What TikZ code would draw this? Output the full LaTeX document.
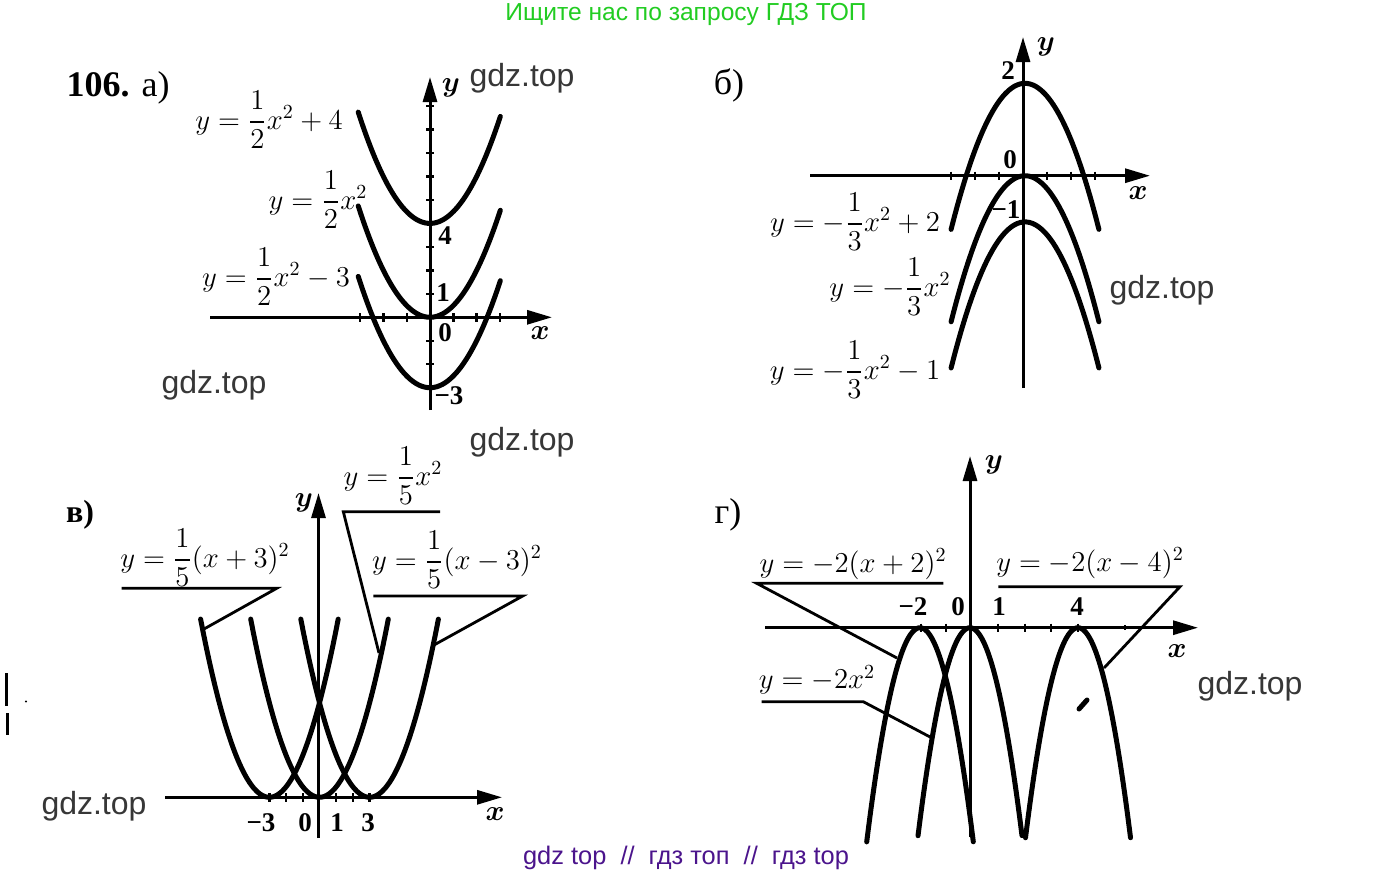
\documentclass[tikz,border=0pt]{standalone}
\usepackage{amsmath}
\usepackage{fontspec}
\setmainfont{Liberation Serif}
\newfontfamily\wmfont{Liberation Sans}
\usetikzlibrary{arrows.meta}
\definecolor{wmgray}{RGB}{55,55,55}
\definecolor{topgreen}{RGB}{34,204,34}
\definecolor{botpurple}{RGB}{75,20,140}
\begin{document}
\begin{tikzpicture}[x=0.5pt,y=-0.5pt,
  axis/.style={line width=1.5pt,-{Triangle[length=12.5pt,width=7pt]}},
  curve/.style={line width=2.5pt,line cap=round},
  lead/.style={line width=1.4pt},
  tk/.style={line width=1.2pt},
  lbl/.style={font=\fontsize{14}{16}\selectfont,inner sep=0pt},
  num/.style={font=\fontsize{13.5}{15}\selectfont\bfseries,inner sep=0pt},
  ax/.style={font=\fontsize{15}{17}\selectfont\boldmath,inner sep=0pt},
  wm/.style={font=\wmfont\fontsize{16}{18}\selectfont,text=wmgray,inner sep=0pt},
  ttl/.style={font=\fontsize{18}{20}\selectfont,inner sep=0pt}]
\useasboundingbox (0,0) rectangle (1374,878);

% header / footer
\node[font=\wmfont\fontsize{12.3}{14}\selectfont,text=topgreen,inner sep=0pt] (top) at (686,14) {Ищите нас по запросу ГДЗ ТОП};
\node[font=\wmfont\fontsize{12.7}{14}\selectfont,text=botpurple,inner sep=0pt] (bot) at (686,858) {gdz top\ \ //\ \ гдз топ\ \ //\ \ гдз top};

% ---------------- panel a ----------------
\node[ttl] (ta) at (118,88) {\textbf{106.} а)};
\draw[axis] (430,410) -- (430,77);
\draw[axis] (210,317.3) -- (552,317.3);
\foreach \k in {-3,-2,-1,1,2,3} \draw[tk] ({430+23.3*\k},313) -- ({430+23.3*\k},321.5);
\foreach \k in {-3,-2,-1,1,2,3,4,5,6,7,8,9} \draw[tk] (426,{317.3-23.47*\k}) -- (434,{317.3-23.47*\k});
\draw[curve] plot[domain=-3.08:3.02,samples=50,smooth] ({430+23.3*\x},{317.3-23.47*(0.5*\x*\x+4)});
\draw[curve] plot[domain=-3.08:3.02,samples=50,smooth] ({430+23.3*\x},{317.3-23.47*(0.5*\x*\x)});
\draw[curve] plot[domain=-3.08:3.02,samples=50,smooth] ({430+23.3*\x},{317.3-23.47*(0.5*\x*\x-3)});
\node[lbl] (fa1) at (269,120) {$y=\dfrac{1}{2}x^2+4$};
\node[lbl] (fa2) at (318,200) {$y=\dfrac{1}{2}x^2$};
\node[lbl] (fa3) at (276,277) {$y=\dfrac{1}{2}x^2-3$};
\node[ax] (ya) at (451,88) {$y$};
\node[ax] (xa) at (540,333) {$x$};
\node[num] (a4) at (445,236) {4};
\node[num] (a1) at (443,293) {1};
\node[num] (a0) at (445,333) {0};
\node[num] (am3) at (449,396) {−3};
\node[wm] (wa1) at (522,78) {gdz.top};
\node[wm] (wa2) at (214,385) {gdz.top};

% ---------------- panel b ----------------
\node[ttl] (tb) at (729,85) {б)};
\draw[axis] (1023,388) -- (1023,37);
\draw[axis] (810,175.7) -- (1150,175.7);
\foreach \k in {-3,-2,-1,1,2,3} \draw[tk] ({1023+24*\k},171.5) -- ({1023+24*\k},180);
\draw[curve] plot[domain=-3.08:3.08,samples=50,smooth] ({1025+24*\x},{175.7-46.2*(-\x*\x/3+2)});
\draw[curve] plot[domain=-3.08:3.08,samples=50,smooth] ({1025+24*\x},{175.7-46.2*(-\x*\x/3)});
\draw[curve] plot[domain=-3.08:3.08,samples=50,smooth] ({1025+24*\x},{175.7-46.2*(-\x*\x/3-1)});
\node[lbl] (fb1) at (855,222) {$y=-\dfrac{1}{3}x^2+2$};
\node[lbl] (fb2) at (890,287) {$y=-\dfrac{1}{3}x^2$};
\node[lbl] (fb3) at (855,370) {$y=-\dfrac{1}{3}x^2-1$};
\node[ax] (yb) at (1046,47) {$y$};
\node[ax] (xb) at (1138,193) {$x$};
\node[num] (b2) at (1008,71) {2};
\node[num] (b0) at (1010,160) {0};
\node[num] (bm1) at (1006,210) {−1};
\node[wm] (wb) at (1162,290) {gdz.top};

% ---------------- panel v ----------------
\node[ttl,font=\fontsize{16}{18}\selectfont\bfseries] (tv) at (80,515) {в)};
\draw[axis] (318.5,838) -- (318.5,493);
\draw[axis] (165,797.3) -- (502,797.3);
\foreach \k in {-3,-2,-1,1,2,3} \draw[tk] ({319.5+16.7*\k},793) -- ({319.5+16.7*\k},801.5);
\draw[curve] plot[domain=-4.12:4.12,samples=50,smooth] ({319.5+16.7*(\x-3)},{797.3-52.5*0.2*\x*\x});
\draw[curve] plot[domain=-4.12:4.12,samples=50,smooth] ({319.5+16.7*\x},{797.3-52.5*0.2*\x*\x});
\draw[curve] plot[domain=-4.12:4.12,samples=50,smooth] ({319.5+16.7*(\x+3)},{797.3-52.5*0.2*\x*\x});
\node[lbl] (fv1) at (205,558) {$y=\dfrac{1}{5}(x+3)^2$};
\node[lbl] (fv2) at (393,476) {$y=\dfrac{1}{5}x^2$};
\node[lbl] (fv3) at (457,560) {$y=\dfrac{1}{5}(x-3)^2$};
\coordinate (v1a) at (121.7,588.3); \coordinate (v1b) at (276.7,588.3); \coordinate (v1c) at (204,629);
\coordinate (v2a) at (440,511.7); \coordinate (v2b) at (343.3,511.7); \coordinate (v2c) at (379,653);
\coordinate (v3a) at (373.3,596); \coordinate (v3b) at (522.7,596); \coordinate (v3c) at (434,645);
\draw[lead] (v1a) -- (v1b) -- (v1c);
\draw[lead] (v2a) -- (v2b) -- (v2c);
\draw[lead] (v3a) -- (v3b) -- (v3c);
\node[ax] (yv) at (304,503) {$y$};
\node[ax] (xv) at (495,814) {$x$};
\node[num] (vm3) at (261,823) {−3};
\node[num] (v0) at (305,823) {0};
\node[num] (v1) at (337,823) {1};
\node[num] (v3) at (368,823) {3};
\node[wm] (wv1) at (522,442) {gdz.top};
\node[wm] (wv2) at (94,806) {gdz.top};

% ---------------- panel g ----------------
\node[ttl] (tg) at (728,515) {г)};
\draw[axis] (970,837) -- (970,456);
\draw[axis] (765,627.7) -- (1198,627.7);
\foreach \p in {921,946,998,1025,1051,1078} \draw[tk] (\p,623.5) -- (\p,632);
\draw[line width=1pt] (1125,625) -- (1125,630);
\draw[curve] plot[domain=-2.05:2.05,samples=50,smooth] ({920+26*\x},{627.7+26*2*\x*\x*0.98});
\draw[curve] plot[domain=-2.0:2.0,samples=50,smooth] ({970+26*\x},{627.7+26*2*\x*\x});
\draw[curve] plot[domain=-2.02:2.02,samples=50,smooth] ({1078+26*\x},{627.7+26*2*\x*\x*0.99});
\node[lbl] (fg1) at (853,564) {$y=-2(x+2)^2$};
\node[lbl] (fg2) at (1090,563) {$y=-2(x-4)^2$};
\node[lbl] (fg3) at (817,680) {$y=-2x^2$};
\coordinate (g1a) at (943.3,583.3); \coordinate (g1b) at (756.7,583.3); \coordinate (g1c) at (897,658);
\coordinate (g2a) at (998.3,586.7); \coordinate (g2b) at (1180,586.7); \coordinate (g2c) at (1104,668);
\coordinate (g3a) at (761.7,701.7); \coordinate (g3b) at (863.3,701.7); \coordinate (g3c) at (932,738);
\draw[lead] (g1a) -- (g1b) -- (g1c);
\draw[lead] (g2a) -- (g2b) -- (g2c);
\draw[lead] (g3a) -- (g3b) -- (g3c);
\node[ax] (yg) at (994,465) {$y$};
\node[ax] (xg) at (1177,651) {$x$};
\node[num] (gm2) at (913,607) {−2};
\node[num] (g0) at (958,607) {0};
\node[num] (g1) at (999,607) {1};
\node[num] (g4) at (1077,607) {4};
\node[wm] (wg) at (1250,686) {gdz.top};

% scan specks
\draw[line width=2.5pt,line cap=round] (1079,709) -- (1087,700);
\draw[line width=1.5pt] (6.7,673) -- (6.7,706);
\draw[line width=1.5pt] (7.3,713) -- (7.3,735);
\fill (26,701.5) circle (1.2);
\end{tikzpicture}
\end{document}
